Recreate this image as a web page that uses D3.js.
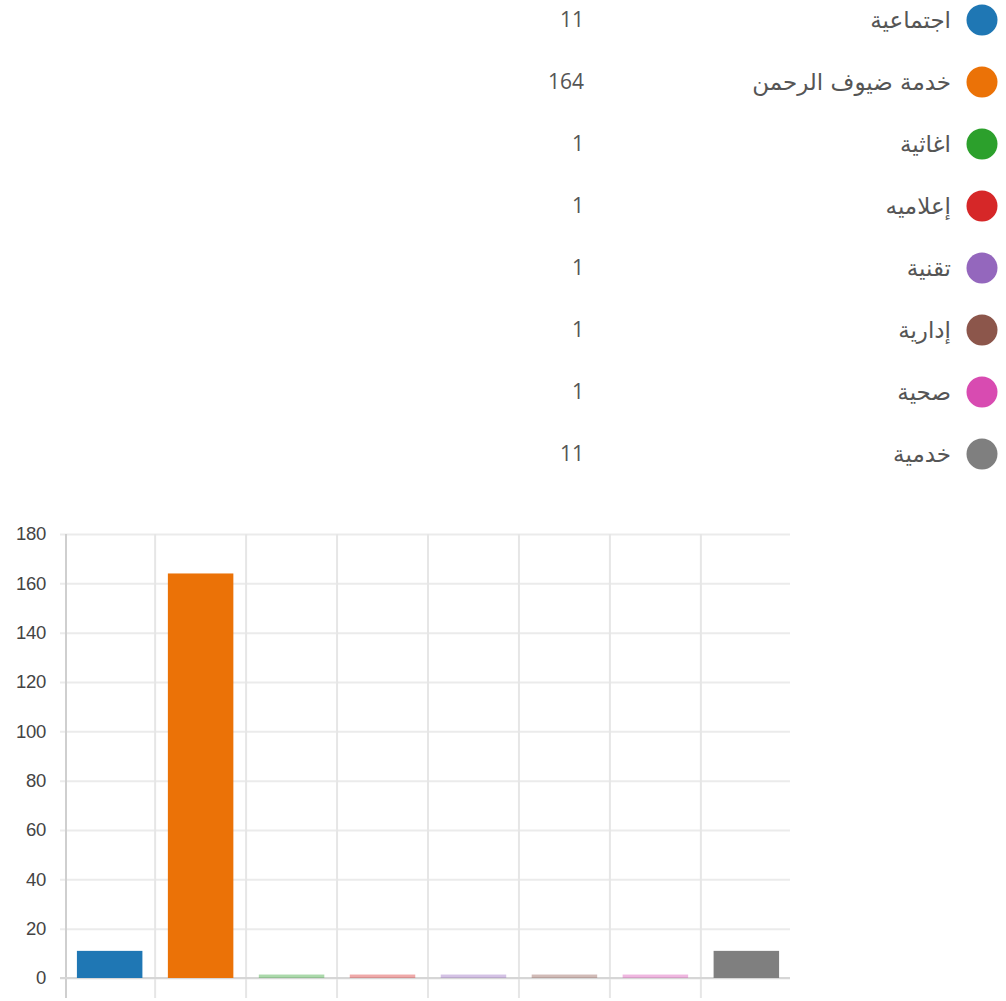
<html>
<head>
    <meta charset="utf-8">
    <title>Bar</title>
    <style>
        body { margin: 0; background: #fff; }
    </style>
</head>
<body>
<div id="bar"></div>
</body>
<script src="https://d3js.org/d3.v7.min.js"></script>
<script>

  const width = 1006;
  const height = 1001;

  const categories = ['اجتماعية', 'خدمة ضيوف الرحمن', 'اغاثية', 'إعلاميه', 'تقنية', 'إدارية', 'صحية', 'خدمية']
  const values = [11, 164, 1, 1, 1, 1, 1, 11]
  const colors = ['#1f77b4', '#eb7207', '#2ca02c', '#d62728', '#9467bd', '#8c564b', '#d84bb1', '#7f7f7f']
  const yTicks = [0, 20, 40, 60, 80, 100, 120, 140, 160, 180]

  const svg = d3.select('#bar')
    .append('svg')
    .attr('width', width)
    .attr('height', height)

  // legend
  const legend = svg.append('g')
    .selectAll('g')
    .data(categories)
    .join('g')
    .attr('transform', (d, i) => `translate(0, ${20 + i * 62})`)

  legend.append('circle')
    .attr('cx', 982)
    .attr('cy', 0)
    .attr('r', 15.5)
    .attr('fill', (d, i) => colors[i])

  legend.append('text')
    .attr('x', 951)
    .attr('y', 0)
    .attr('dy', '0.35em')
    .attr('text-anchor', 'end')
    .attr('font-family', 'DejaVu Sans, sans-serif')
    .attr('font-size', 23)
    .attr('fill', '#555')
    .text(d => d)

  legend.append('text')
    .attr('x', 584)
    .attr('y', 0)
    .attr('dy', '0.35em')
    .attr('text-anchor', 'end')
    .attr('font-family', 'Open Sans, Noto Sans, sans-serif')
    .attr('font-size', 21)
    .attr('fill', '#555')
    .text((d, i) => values[i])

  // scales
  const x0 = 66, x1 = 790, yTop = 534, yBottom = 978
  const xScale = d3.scaleBand().domain(categories).range([x0, x1]).paddingInner(0.28).paddingOuter(0.12)
  const yScale = d3.scaleLinear().domain([0, 180]).range([yBottom, yTop])

  // horizontal grid + y tick labels
  svg.append('g')
    .attr('transform', `translate(${x0}, 0)`)
    .call(d3.axisLeft(yScale).tickValues(yTicks).tickSize(-(x1 - x0)).tickSizeOuter(0).tickPadding(0))
    .call(g => g.select('.domain').remove())
    .call(g => g.selectAll('.tick line').attr('stroke', '#ebebeb').attr('stroke-width', 2).attr('x1', -6))
    .call(g => g.selectAll('.tick text')
      .attr('x', -20)
      .attr('font-family', 'Liberation Sans, Arial, sans-serif')
      .attr('font-size', 18.5)
      .attr('letter-spacing', -0.3)
      .attr('fill', '#444'))

  // vertical grid at band boundaries
  const step = xScale.step()
  const bounds = categories.map((c, i) => i === 0 ? x0 : xScale(c) - xScale.paddingInner() * step / 2)
  svg.append('g')
    .selectAll('line')
    .data(bounds)
    .join('line')
    .attr('x1', d => d)
    .attr('x2', d => d)
    .attr('y1', yTop)
    .attr('y2', 998)
    .attr('stroke', (d, i) => i === 0 ? '#cfcfcf' : '#e6e6e6')
    .attr('stroke-width', 2)

  // baseline
  svg.append('line')
    .attr('x1', x0 - 6)
    .attr('x2', x1)
    .attr('y1', yScale(0))
    .attr('y2', yScale(0))
    .attr('stroke', '#d6d6d6')
    .attr('stroke-width', 2)

  // bars
  svg.append('g')
    .selectAll('rect')
    .data(categories)
    .join('rect')
    .attr('x', d => xScale(d))
    .attr('width', xScale.bandwidth())
    .attr('y', (d, i) => yScale(values[i]) - (values[i] < 2 ? 1 : 0))
    .attr('height', (d, i) => yScale(0) - yScale(values[i]) + (values[i] < 2 ? 1 : 0))
    .attr('fill', (d, i) => colors[i])
    .attr('fill-opacity', (d, i) => values[i] < 2 ? 0.4 : 1)

</script>
</html>
